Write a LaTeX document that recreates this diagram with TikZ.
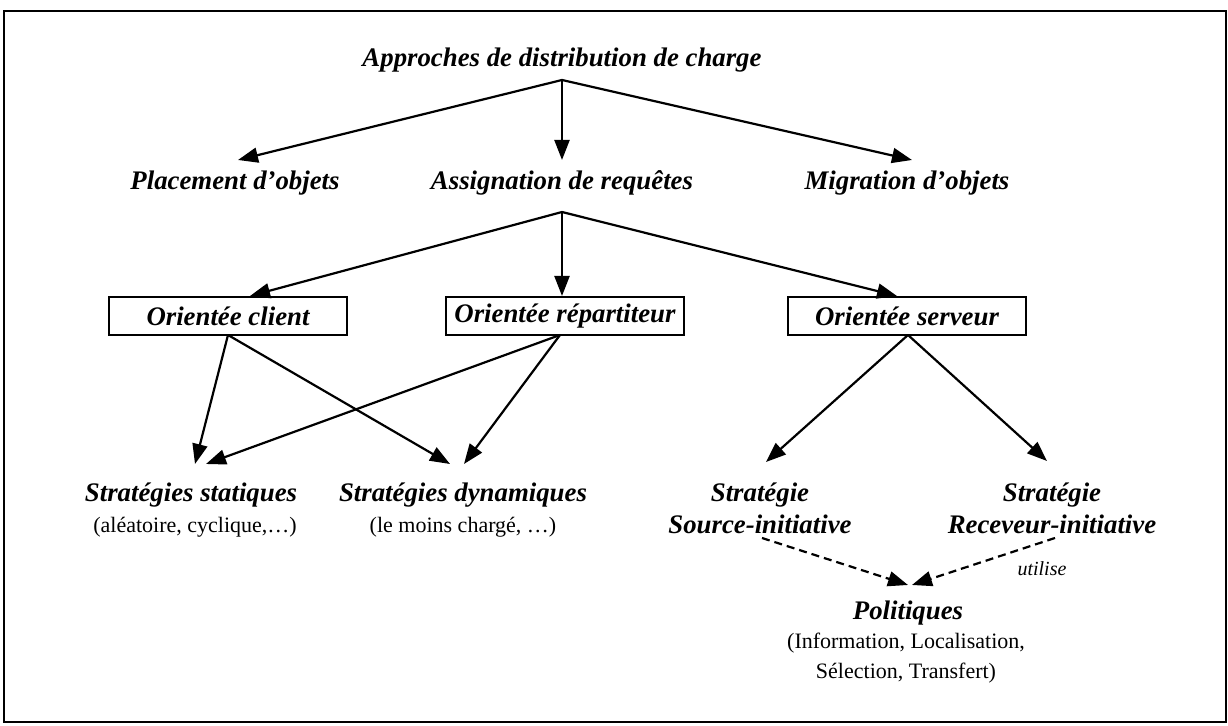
\documentclass[tikz,border=0pt]{standalone}
\usepackage{fontspec}
\setmainfont{Liberation Serif}
\usetikzlibrary{arrows.meta}
\begin{document}
\begin{tikzpicture}[x=0.5pt,y=-0.5pt,
  lbl/.style={font=\fontsize{13.4}{16}\selectfont\bfseries\itshape, inner sep=1pt, align=center},
  sub/.style={font=\fontsize{11}{15}\selectfont, inner sep=1pt, align=center},
  boxed/.style={lbl, draw, line width=1.2pt, minimum width=119pt, minimum height=19pt},
  arr/.style={line width=1.1pt, -{Triangle[length=10pt,width=7.5pt]}},
  darr/.style={arr, dash pattern=on 4pt off 2.5pt}]
  \useasboundingbox (0,0) rectangle (1228,726);
  % outer frame
  \draw[line width=1.1pt] (4,11) rectangle (1226,722);

  % top level
  \node[lbl] (root) at (562,60) {Approches de distribution de charge};
  \coordinate (r0) at (562,80);
  \node[lbl] (place) at (235,183) {Placement d'objets};
  \node[lbl] (assign) at (562,183) {Assignation de requêtes};
  \node[lbl] (migr) at (907,183) {Migration d'objets};
  \coordinate (place-t) at (238,160);
  \coordinate (assign-t) at (562,160);
  \coordinate (migr-t) at (912,160);
  \draw[arr] (r0) -- (place-t);
  \draw[arr] (r0) -- (assign-t);
  \draw[arr] (r0) -- (migr-t);

  % second level
  \coordinate (a0) at (562,212);
  \node[boxed] (client) at (228,316) {Orientée client};
  \node[boxed] (repart) at (565,316) {Orientée répartiteur};
  \node[boxed] (serveur) at (907,316) {Orientée serveur};
  \coordinate (client-t) at (250,296);
  \coordinate (repart-t) at (562,296);
  \coordinate (serveur-t) at (897,296);
  \draw[arr] (a0) -- (client-t);
  \draw[arr] (a0) -- (repart-t);
  \draw[arr] (a0) -- (serveur-t);

  % strategies
  \node[lbl] (stat) at (191,495) {Stratégies statiques};
  \node[sub] (statsub) at (195,527) {(aléatoire, cyclique,…)};
  \node[lbl] (dyn) at (463,495) {Stratégies dynamiques};
  \node[sub] (dynsub) at (463,527) {(le moins chargé, …)};
  \node[lbl] (src) at (760,508) {Stratégie\\Source-initiative};
  \node[lbl] (rcv) at (1052,508) {Stratégie\\Receveur-initiative};

  \coordinate (c0) at (228,335);
  \coordinate (p0) at (560,335);
  \coordinate (s0) at (908,335);
  \coordinate (stat-t) at (195,464);
  \coordinate (stat-t2) at (206,464);
  \coordinate (dyn-t) at (450,464);
  \coordinate (dyn-t2) at (464,464);
  \draw[arr] (c0) -- (stat-t);
  \draw[arr] (c0) -- (dyn-t);
  \draw[arr] (p0) -- (stat-t2);
  \draw[arr] (p0) -- (dyn-t2);
  \coordinate (src-t) at (766,462);
  \coordinate (rcv-t) at (1047,461);
  \draw[arr] (s0) -- (src-t);
  \draw[arr] (s0) -- (rcv-t);

  % policies
  \node[lbl] (pol) at (908,613) {Politiques};
  \node[sub] (polsub) at (906,658) {(Information, Localisation,\\Sélection, Transfert)};
  \coordinate (src-b) at (762,538);
  \coordinate (rcv-b) at (1055,538);
  \coordinate (pol-t1) at (908,585);
  \coordinate (pol-t2) at (912,585);
  \draw[darr] (src-b) -- (pol-t1);
  \draw[darr] (rcv-b) -- (pol-t2);
  \node[font=\fontsize{10}{12}\selectfont\itshape, inner sep=1pt] (use) at (1042,569) {utilise};
\end{tikzpicture}
\end{document}
